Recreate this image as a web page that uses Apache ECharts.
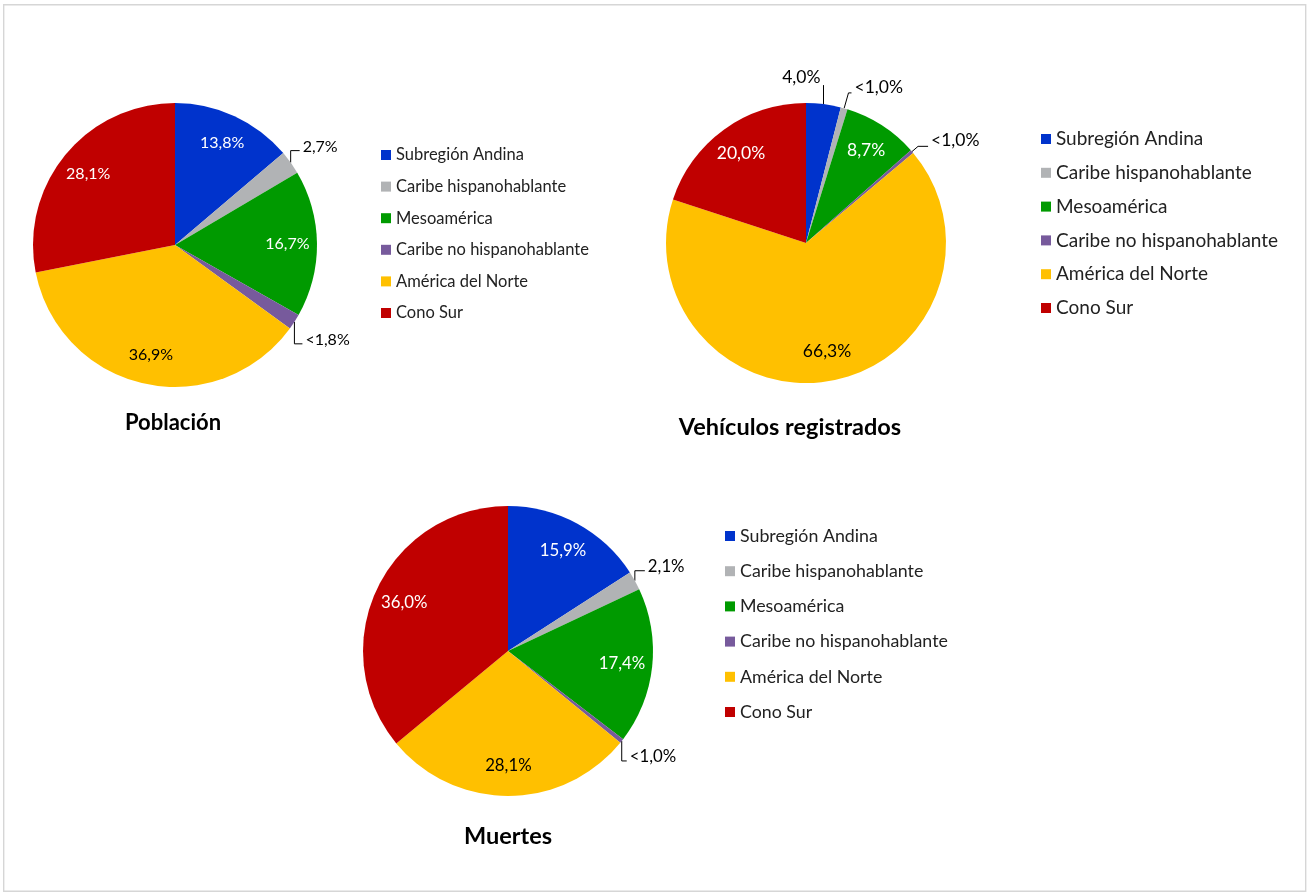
<!DOCTYPE html>
<html>
<head>
<meta charset="utf-8">
<script src="https://cdn.jsdelivr.net/npm/echarts@6/dist/echarts.min.js"></script>
<style>
  html, body { margin: 0; padding: 0; background: #fff; }
  #chart { width: 1308px; height: 893px; }
</style>
</head>
<body>
<div id="chart"></div>
<script>
// datos
const regiones = ["Subregión Andina", "Caribe hispanohablante", "Mesoamérica", "Caribe no hispanohablante", "América del Norte", "Cono Sur"];
const colores = ["#0033CC", "#B1B3B5", "#009A00", "#775A9C", "#FFC000", "#C00000"];
// color del texto dentro de cada porción
const coloresTexto = ["#fff", "#000", "#fff", "#fff", "#000", "#fff"];
const titulos = ["Población", "Vehículos registrados", "Muertes"];

const poblacion = [13.8, 2.7, 16.7, 1.8, 36.9, 28.1];
const poblacionEtiquetas = ["13,8%", "2,7%", "16,7%", "<1,8%", "36,9%", "28,1%"];

const vehiculos = [4.0, 0.8, 8.7, 0.4, 66.3, 20.0];
const vehiculosEtiquetas = ["4,0%", "<1,0%", "8,7%", "<1,0%", "66,3%", "20,0%"];

const muertes = [15.9, 2.1, 17.4, 0.5, 28.1, 36.0];
const muertesEtiquetas = ["15,9%", "2,1%", "17,4%", "<1,0%", "28,1%", "36,0%"];

const FUENTE = "Lato, 'Noto Sans', sans-serif";

// posición y estilo de cada pastel
// lineas: índice -> [largo1, largo2, modo]
//   modo "v" = codo vertical, "izq" = texto a la izquierda, sin modo = línea radial de echarts
const graficos = [
  {
    valores: poblacion, etiquetas: poblacionEtiquetas,
    centro: [175, 245], radio: 142, fontSize: 16,
    lineas: { 1: [12, 9, "v"], 3: [22, 8, "v"] },
    leyenda: { left: 381, top: 146, fontSize: 16.5, lineHeight: 18, gap: 13.6 },
    titulo: [173, 423], tituloSize: 22
  },
  {
    valores: vehiculos, etiquetas: vehiculosEtiquetas,
    centro: [806, 243], radio: 140, fontSize: 17.5,
    lineas: { 0: [19, 0, "izq"], 1: [16, 3], 3: [8, 10] },
    leyenda: { left: 1041, top: 129, fontSize: 19, lineHeight: 20, gap: 13.8 },
    titulo: [790, 427], tituloSize: 23.5
  },
  {
    valores: muertes, etiquetas: muertesEtiquetas,
    centro: [508, 651], radio: 145, fontSize: 16.8,
    lineas: { 1: [10, 10, "v"], 3: [20, 5, "v"] },
    leyenda: { left: 725, top: 526, fontSize: 17.8, lineHeight: 20, gap: 15.2 },
    titulo: [508, 836], tituloSize: 23.5
  }
];

const chart = echarts.init(document.getElementById("chart"));

const series = [];
const labelSeries = [];
const legends = [];
const graphic = [
  {
    type: "rect",
    shape: { x: 3.7, y: 4.7, width: 1302, height: 886.5 },
    style: { fill: "none", stroke: "#D6D6D6", lineWidth: 1.4 },
    silent: true
  }
];

graficos.forEach((g, k) => {
  // pastel principal, con etiquetas exteriores para las porciones pequeñas
  series.push({
    type: "pie",
    center: g.centro,
    radius: [0, g.radio],
    startAngle: 90,
    clockwise: true,
    avoidLabelOverlap: false,
    silent: true,
    itemStyle: { borderWidth: 0 },
    emphasis: { disabled: true },
    labelLayout: function (params) {
      const cfg = g.lineas[params.dataIndex];
      const out = { hideOverlap: false, moveOverlap: false };
      if (!cfg || !params.labelLinePoints) return out;
      const pts = params.labelLinePoints;
      const p = pts[0];
      if (!cfg[2]) {
        // línea radial normal, texto un poco por encima del final
        const e = pts[pts.length - 1];
        return Object.assign(out, {
          x: e[0] + 3, y: e[1] - 6, align: "left", verticalAlign: "middle",
          labelLinePoints: pts
        });
      }
      const dir = p[1] < g.centro[1] ? -1 : 1;
      const q = [p[0], p[1] + dir * cfg[0]];
      if (cfg[2] === "izq") {
        return Object.assign(out, {
          x: q[0] - 3, y: q[1] - 8, align: "right", verticalAlign: "middle",
          labelLinePoints: [p, q, q]
        });
      }
      const r = [q[0] + cfg[1], q[1]];
      return Object.assign(out, {
        x: r[0] + 3, y: r[1] - 4, align: "left", verticalAlign: "middle",
        labelLinePoints: [p, q, r]
      });
    },
    data: g.valores.map((v, i) => {
      const fuera = v < 5;
      const len = g.lineas[i] || [10, 5];
      return {
        name: regiones[i],
        value: v,
        itemStyle: { color: colores[i] },
        label: fuera ? {
          show: true, position: "outside", color: "#000",
          fontSize: g.fontSize, fontFamily: FUENTE,
          formatter: () => g.etiquetas[i], distanceToLabelLine: 3
        } : { show: false },
        labelLine: fuera ? {
          show: true, length: len[0], length2: len[1] || 1, smooth: false,
          lineStyle: { color: "#000", width: 1 }
        } : { show: false }
      };
    })
  });

  // capa transparente sólo para colocar las etiquetas interiores más afuera
  labelSeries.push({
    type: "pie",
    center: g.centro,
    radius: [g.radio * 0.54, g.radio],
    startAngle: 90,
    clockwise: true,
    silent: true,
    avoidLabelOverlap: false,
    emphasis: { disabled: true },
    itemStyle: { color: "rgba(0,0,0,0)", borderWidth: 0 },
    labelLine: { show: false },
    data: g.valores.map((v, i) => ({
      name: regiones[i],
      value: v,
      label: v >= 5 ? {
        show: true, position: "inside", color: coloresTexto[i],
        fontSize: g.fontSize, fontFamily: FUENTE,
        formatter: () => g.etiquetas[i]
      } : { show: false }
    }))
  });

  legends.push({
    orient: "vertical",
    left: g.leyenda.left,
    top: g.leyenda.top,
    padding: 0,
    itemWidth: 10,
    itemHeight: 10,
    itemGap: g.leyenda.gap,
    icon: "rect",
    selectedMode: false,
    data: regiones,
    textStyle: {
      color: "#222",
      fontSize: g.leyenda.fontSize,
      lineHeight: g.leyenda.lineHeight,
      fontFamily: FUENTE
    }
  });

  graphic.push({
    type: "text",
    x: g.titulo[0],
    y: g.titulo[1],
    silent: true,
    style: {
      text: titulos[k],
      align: "center",
      verticalAlign: "middle",
      fill: "#000",
      font: "bold " + g.tituloSize + "px " + FUENTE
    }
  });
});

chart.setOption({
  animation: false,
  backgroundColor: "#fff",
  legend: legends,
  graphic: graphic,
  series: series.concat(labelSeries)
});
</script>
</body>
</html>
